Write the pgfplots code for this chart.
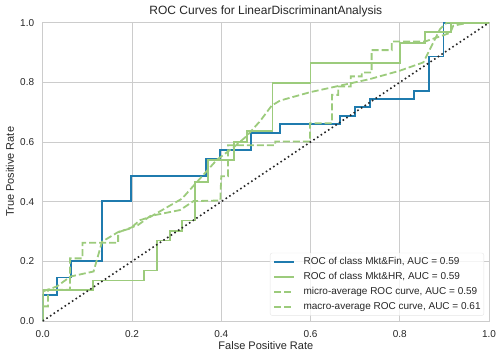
\documentclass[border=0pt]{standalone}
\usepackage{pgfplots}
\pgfplotsset{compat=1.18}
\usepackage{fontspec}
\setmainfont{Liberation Sans}
\definecolor{rocblue}{HTML}{1F7BAE}
\definecolor{rocgreen}{HTML}{9CCB7C}
\definecolor{txt}{HTML}{262626}
\definecolor{gridc}{HTML}{CCCCCC}
\begin{document}
\begin{tikzpicture}[x=1pt,y=1pt]
\path[use as bounding box] (-42.7,-38) rectangle (459.3,321);
\begin{axis}[
  at={(0,0)}, anchor=south west,
  scale only axis, width=446.3pt, height=298.3pt,
  xmin=0, xmax=1, ymin=0, ymax=1,
  xtick={0,0.2,0.4,0.6,0.8,1}, ytick={0,0.2,0.4,0.6,0.8,1},
  xticklabels={0.0,0.2,0.4,0.6,0.8,1.0}, yticklabels={0.0,0.2,0.4,0.6,0.8,1.0},
  major tick length=0pt,
  grid=major, major grid style={draw=gridc, line width=0.9pt},
  axis line style={draw=gridc, line width=1pt},
  tick label style={font=\fontsize{10}{12}\selectfont, text=txt},
  xticklabel style={anchor=base, inner sep=0pt, yshift=-16pt},
  yticklabel style={anchor=east, inner sep=0pt, xshift=-8.4pt},
  xlabel={False Positive Rate}, ylabel={True Positive Rate},
  xlabel style={at={(axis description cs:0.5,-0.0955)}, anchor=base, inner sep=0pt, font=\fontsize{11}{13}\selectfont, text=txt},
  ylabel style={at={(axis description cs:-0.0647,0.5)}, anchor=base, inner sep=0pt, font=\fontsize{11}{13}\selectfont, text=txt},
  title={ROC Curves for LinearDiscriminantAnalysis},
  title style={at={(axis description cs:0.5,1.008)}, anchor=base, inner sep=0pt, font=\fontsize{12}{14}\selectfont, text=txt},
  legend style={at={(0.989,0.018)}, anchor=south east, draw=black!10, rounded corners=2pt,
    fill=white, fill opacity=0.8, text opacity=1, draw opacity=1,
    font=\fontsize{10}{12}\selectfont, text=txt, inner xsep=3.3pt, inner ysep=3.7pt, row sep=5pt,
    nodes={inner sep=0pt, text height=7.5pt, text depth=2.5pt},
    /tikz/every odd column/.append style={column sep=8.3pt}},
  legend cell align=left,
  legend image code/.code={\draw[#1] (0pt,0pt) -- (20pt,0pt);},
]
\addplot[rocblue, line width=1.8pt] coordinates {
(0,0) (0,0.088) (0.032,0.088) (0.032,0.146) (0.064,0.146) (0.064,0.2) (0.133,0.2) (0.133,0.403) (0.198,0.403) (0.198,0.486) (0.365,0.486) (0.365,0.545) (0.398,0.545) (0.398,0.572) (0.466,0.572) (0.466,0.630) (0.532,0.630) (0.532,0.660) (0.666,0.660) (0.666,0.688) (0.700,0.688) (0.700,0.717) (0.733,0.717) (0.733,0.743) (0.832,0.743) (0.832,0.772) (0.866,0.772) (0.866,0.887) (0.898,0.887) (0.898,1) (1,1)};
\addlegendentry{ROC of class Mkt\&Fin, AUC = 0.59}
\addplot[rocgreen, line width=1.8pt] coordinates {
(0,0) (0,0.104) (0.113,0.104) (0.113,0.136) (0.227,0.136) (0.227,0.169) (0.256,0.169) (0.256,0.270) (0.286,0.270) (0.286,0.303) (0.313,0.303) (0.313,0.337) (0.342,0.337) (0.342,0.467) (0.371,0.467) (0.371,0.539) (0.429,0.539) (0.429,0.601) (0.457,0.601) (0.457,0.637) (0.515,0.637) (0.515,0.799) (0.600,0.799) (0.600,0.866) (0.800,0.866) (0.800,0.933) (0.857,0.933) (0.857,0.968) (0.914,0.968) (0.914,1) (1,1)};
\addlegendentry{ROC of class Mkt\&HR, AUC = 0.59}
\addplot[rocgreen, line width=1.8pt, dash pattern=on 7pt off 3pt] coordinates {
(0,0) (0,0.099) (0.032,0.116) (0.062,0.149) (0.114,0.166) (0.133,0.266) (0.170,0.299) (0.196,0.31) (0.218,0.338) (0.241,0.349) (0.312,0.41) (0.342,0.46) (0.39,0.54) (0.43,0.585) (0.457,0.62) (0.487,0.67) (0.513,0.722) (0.532,0.739) (0.599,0.767) (0.666,0.789) (0.733,0.811) (0.8,0.839) (0.853,0.867) (0.868,0.912) (0.89,0.978) (0.905,1) (1,1)};
\addlegendentry{micro-average ROC curve, AUC = 0.59}
\addplot[rocgreen, line width=1.8pt, dash pattern=on 7pt off 3pt] coordinates {
(0,0.049) (0.012,0.049) (0.012,0.105) (0.061,0.105) (0.061,0.21) (0.089,0.21) (0.089,0.262) (0.169,0.262) (0.169,0.297) (0.214,0.322) (0.241,0.352) (0.308,0.372) (0.338,0.402) (0.398,0.404) (0.400,0.485) (0.415,0.485) (0.415,0.589) (0.521,0.589) (0.521,0.602) (0.599,0.602) (0.599,0.663) (0.648,0.663) (0.648,0.758) (0.662,0.758) (0.662,0.786) (0.690,0.786) (0.690,0.82) (0.715,0.82) (0.715,0.833) (0.737,0.833) (0.737,0.908) (0.782,0.908) (0.782,0.937) (0.857,0.937) (0.913,0.966) (0.92,0.99) (0.954,1) (1,1)};
\addlegendentry{macro-average ROC curve, AUC = 0.61}
\addplot[black!85, line width=1.6pt, dash pattern=on 1.6pt off 2.8pt, forget plot] coordinates {(0,0) (1,1)};
\end{axis}
\end{tikzpicture}
\end{document}
